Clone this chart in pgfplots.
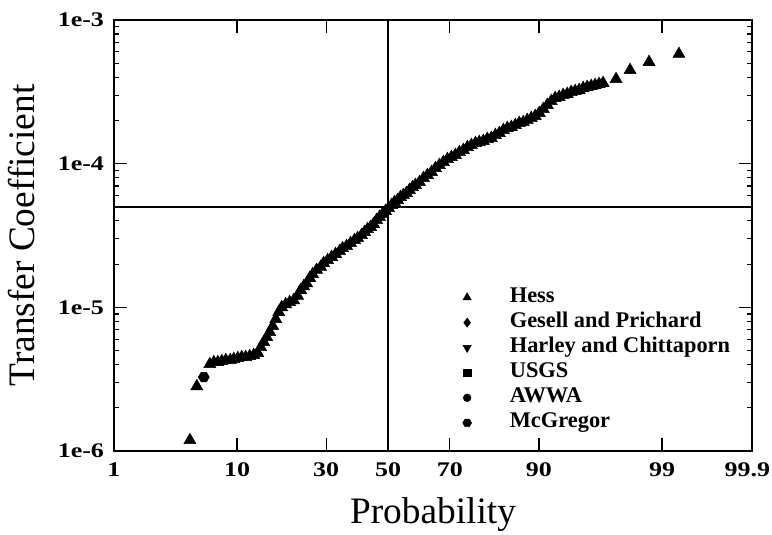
\documentclass[border=0pt]{standalone}
\usepackage{fontspec}
\setmainfont{Liberation Serif}
\newfontfamily\tickfont{Liberation Serif}[FakeStretch=1.25, BoldFeatures={FakeStretch=1.25}]
\usepackage{pgfplots}
\pgfplotsset{compat=1.18}
\pgfdeclareplotmark{hexagon*}{%
  \pgfpathmoveto{\pgfpointpolar{0}{\pgfplotmarksize}}%
  \pgfpathlineto{\pgfpointpolar{60}{\pgfplotmarksize}}%
  \pgfpathlineto{\pgfpointpolar{120}{\pgfplotmarksize}}%
  \pgfpathlineto{\pgfpointpolar{180}{\pgfplotmarksize}}%
  \pgfpathlineto{\pgfpointpolar{240}{\pgfplotmarksize}}%
  \pgfpathlineto{\pgfpointpolar{300}{\pgfplotmarksize}}%
  \pgfpathclose
  \pgfusepathqfillstroke}
\begin{document}
\begin{tikzpicture}
\begin{axis}[
  scale only axis, width=478.5pt, height=323.25pt,
  xmin=-2.326348, xmax=3.090232,
  ymode=log, ymin=1e-6, ymax=1e-3,
  xtick={-2.326348,-1.281552,-0.524401,0,0.524401,1.281552,2.326348,3.090232},
  xticklabels={1,10,30,50,70,90,99,99.9\kern7pt},
  ytick={1e-6,1e-5,1e-4,1e-3},
  yticklabels={1e-6,1e-5,1e-4,1e-3},
  minor ytick={2e-6,3e-6,4e-6,5e-6,6e-6,7e-6,8e-6,9e-6,2e-5,3e-5,4e-5,5e-5,6e-5,7e-5,8e-5,9e-5,2e-4,3e-4,4e-4,5e-4,6e-4,7e-4,8e-4,9e-4},
  tick align=inside,
  major tick length=9.5pt, minor tick length=4pt,
  tick style={black, line width=0.9pt},
  axis line style={line width=1.3pt},
  tick label style={font=\tickfont\bfseries\fontsize{15.6}{18}\selectfont},
  xticklabel style={yshift=-5pt},
  yticklabel style={xshift=-4pt},
  xlabel={Probability},
  ylabel={Transfer Coefficient},
  xlabel style={at={(rel axis cs:0.5,0)}, anchor=base, yshift=-54pt, font=\fontsize{28}{32}\selectfont},
  ylabel style={at={(rel axis cs:0,0.5)}, anchor=center, yshift=69pt, font=\fontsize{28}{32}\selectfont},
  legend style={at={(axis description cs:0.541,0.3787)}, anchor=north west, draw=none, fill=none, inner sep=0pt, outer sep=0pt, row sep=4.2pt,
    font=\bfseries\fontsize{16.8}{19}\selectfont,
    nodes={inner sep=0pt, text height=11pt, text depth=3.6pt}},
  legend cell align=left,
  legend image code/.code={\path[draw=none,fill=none] (-6pt,-4pt) rectangle (32pt,4pt); \draw[#1] plot coordinates {(0pt,0pt)};},
]
\addplot[black, line width=1pt, forget plot] coordinates {(0,1e-6) (0,1e-3)};
\addplot[black, line width=1pt, forget plot] coordinates {(-2.326348,5e-5) (3.090232,5e-5)};
% Hess
\addplot[only marks, mark=triangle*, mark size=5.2pt, black, forget plot] table {
x y
-1.682 1.19e-6
-1.623 2.82e-6
-1.513 4.02e-6
-1.479 4.15e-6
-1.445 4.15e-6
-1.411 4.22e-6
-1.377 4.29e-6
-1.339 4.29e-6
-1.309 4.36e-6
-1.275 4.43e-6
-1.242 4.50e-6
-1.208 4.50e-6
-1.174 4.57e-6
-1.140 4.65e-6
-1.106 4.80e-6
-1.081 5.28e-6
-1.055 5.72e-6
-1.030 6.20e-6
-1.004 6.72e-6
-0.979 7.40e-6
-0.953 8.28e-6
-0.928 9.26e-6
-0.903 1.00e-5
-0.869 1.05e-5
-0.835 1.087e-5
-0.801 1.12e-5
-0.767 1.20e-5
-0.742 1.32e-5
-0.716 1.40e-5
-0.691 1.47e-5
-0.665 1.60e-5
-0.640 1.70e-5
-0.606 1.82e-5
-0.572 1.91e-5
-0.547 2.03e-5
-0.513 2.13e-5
-0.479 2.24e-5
-0.445 2.35e-5
-0.411 2.46e-5
-0.386 2.58e-5
-0.352 2.67e-5
-0.318 2.80e-5
-0.284 2.94e-5
-0.258 3.03e-5
-0.225 3.18e-5
-0.199 3.34e-5
-0.174 3.50e-5
-0.148 3.62e-5
-0.123 3.80e-5
-0.097 4.05e-5
-0.072 4.25e-5
-0.047 4.46e-5
-0.021 4.68e-5
0.004 4.91e-5
0.030 5.15e-5
0.055 5.40e-5
0.081 5.58e-5
0.106 5.85e-5
0.131 6.04e-5
0.157 6.24e-5
0.182 6.55e-5
0.208 6.87e-5
0.233 7.10e-5
0.267 7.44e-5
0.301 7.94e-5
0.335 8.33e-5
0.369 8.74e-5
0.403 9.32e-5
0.436 9.78e-5
0.470 1.026e-4
0.504 1.076e-4
0.538 1.11e-4
0.572 1.148e-4
0.606 1.204e-4
0.640 1.244e-4
0.674 1.304e-4
0.708 1.347e-4
0.742 1.391e-4
0.775 1.414e-4
0.809 1.437e-4
0.843 1.484e-4
0.877 1.508e-4
0.911 1.582e-4
0.945 1.633e-4
0.979 1.714e-4
1.013 1.770e-4
1.047 1.799e-4
1.081 1.857e-4
1.114 1.917e-4
1.148 1.948e-4
1.182 2.012e-4
1.216 2.077e-4
1.250 2.145e-4
1.284 2.251e-4
1.318 2.400e-4
1.352 2.559e-4
1.386 2.728e-4
1.419 2.862e-4
1.453 2.909e-4
1.487 3.004e-4
1.521 3.053e-4
1.555 3.152e-4
1.589 3.203e-4
1.623 3.255e-4
1.657 3.361e-4
1.691 3.415e-4
1.725 3.471e-4
1.758 3.527e-4
1.792 3.584e-4
1.826 3.642e-4
1.936 3.88e-4
2.055 4.48e-4
2.216 5.10e-4
2.470 5.80e-4
};
% McGregor
\addplot[only marks, mark=hexagon*, mark size=4.1pt, black, forget plot] table {
x y
-1.564 3.27e-6
};
\addlegendimage{only marks, mark=triangle*, mark size=3.6pt, black}
\addlegendentry{Hess}
\addlegendimage{only marks, mark=diamond*, mark size=3.4pt, black}
\addlegendentry{Gesell and Prichard}
\addlegendimage{only marks, mark=triangle*, mark options={rotate=180}, mark size=3.6pt, black}
\addlegendentry{Harley and Chittaporn}
\addlegendimage{only marks, mark=square*, mark size=2.8pt, black}
\addlegendentry{USGS}
\addlegendimage{only marks, mark=*, mark size=2.9pt, black}
\addlegendentry{AWWA}
\addlegendimage{only marks, mark=hexagon*, mark size=3.3pt, black}
\addlegendentry{McGregor}
\end{axis}
\pgfresetboundingbox
\path ([xshift=-85.5pt,yshift=-62.25pt]current axis.south west) rectangle ([xshift=15pt,yshift=15pt]current axis.north east);
\end{tikzpicture}
\end{document}
